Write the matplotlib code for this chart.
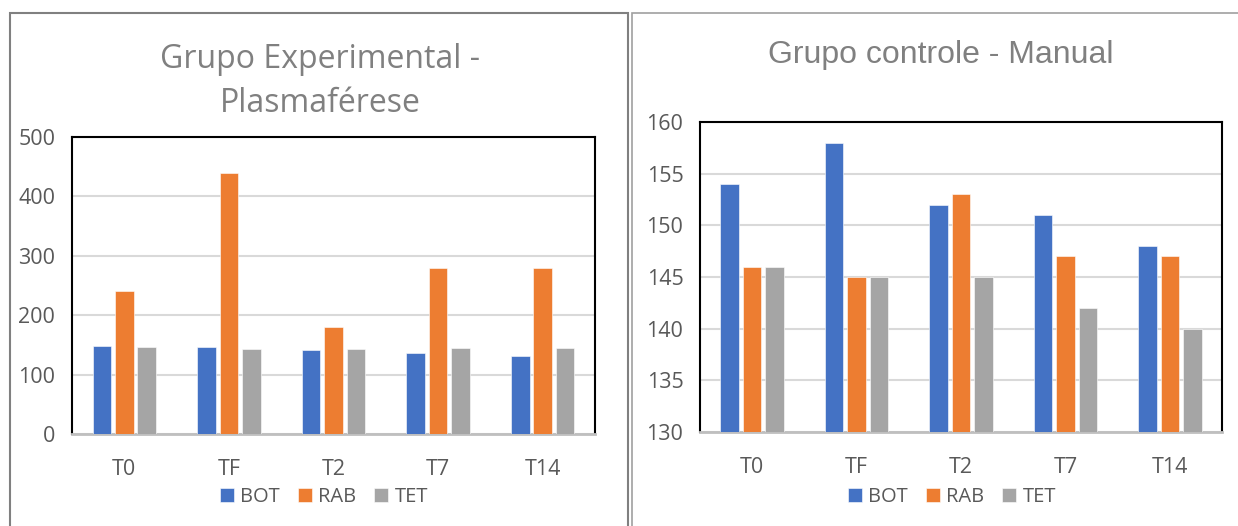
import matplotlib.pyplot as plt
import numpy as np
from matplotlib.patches import Rectangle

# data
categories = ["T0", "TF", "T2", "T7", "T14"]
series_names = ["BOT", "RAB", "TET"]

exp_bot = [148, 146, 142, 136, 132]
exp_rab = [240, 440, 180, 280, 280]
exp_tet = [147, 143, 143, 144, 144]

ctl_bot = [154, 158, 152, 151, 148]
ctl_rab = [146, 145, 153, 147, 147]
ctl_tet = [146, 145, 145, 142, 140]

colors = ["#4472C4", "#ED7D31", "#A5A5A5"]
TEXT = "#595959"
TICK_FONT = "Open Sans"


def draw_panel(ax, series, ylim, step):
    x = np.arange(len(categories))
    offsets = [-0.215, 0.0, 0.215]
    for vals, off, c, name in zip(series, offsets, colors, series_names):
        ax.bar(x + off, vals, width=0.178, color=c, label=name, zorder=3,
               edgecolor="white", linewidth=0.4)
    ax.set_xlim(-0.5, len(categories) - 0.5)
    ax.set_ylim(*ylim)
    ax.set_yticks(np.arange(ylim[0], ylim[1] + step, step))
    ax.set_xticks(x)
    ax.set_xticklabels(categories)
    ax.grid(axis="y", color="#D9D9D9", linewidth=1.5, zorder=0)
    ax.tick_params(length=0, labelsize=15.5, labelcolor=TEXT)
    ax.tick_params(axis="y", pad=12)
    ax.tick_params(axis="x", pad=18)
    for lab in ax.get_xticklabels() + ax.get_yticklabels():
        lab.set_fontfamily(TICK_FONT)
    for s in ["top", "left", "right"]:
        ax.spines[s].set_color("black")
        ax.spines[s].set_linewidth(1.5)
    ax.spines["bottom"].set_color("#BFBFBF")
    ax.spines["bottom"].set_linewidth(2)


fig = plt.figure(figsize=(12.38, 5.26), dpi=100)

# panel frames
fig.add_artist(Rectangle((10 / 1238, -0.1), 618 / 1238, 1.1 - 13 / 526,
                         transform=fig.transFigure, fill=False,
                         edgecolor="#808080", linewidth=1.5))
fig.add_artist(Rectangle((632 / 1238, -0.1), 0.6, 1.1 - 13 / 526,
                         transform=fig.transFigure, fill=False,
                         edgecolor="#A0A0A0", linewidth=1.2))

ax1 = fig.add_axes([72 / 1238, 1 - 434 / 526, 523 / 1238, 297 / 526])
draw_panel(ax1, [exp_bot, exp_rab, exp_tet], (0, 500), 100)

ax2 = fig.add_axes([700 / 1238, 1 - 432 / 526, 522 / 1238, 310 / 526])
draw_panel(ax2, [ctl_bot, ctl_rab, ctl_tet], (130, 160), 5)

fig.text(320 / 1238, 1 - 60 / 526, "Grupo Experimental -", ha="center",
         va="center", fontsize=23, color="#808080", family=TICK_FONT)
fig.text(320 / 1238, 1 - 103 / 526, "Plasmaférese", ha="center",
         va="center", fontsize=23, color="#808080", family=TICK_FONT)
fig.text(941 / 1238, 1 - 55 / 526, "Grupo controle - Manual", ha="center",
         va="center", fontsize=23, color="#808080", family="Liberation Sans")

for ax, cx in [(ax1, 324), (ax2, 952)]:
    leg = ax.legend(loc="center", bbox_to_anchor=(cx / 1238, 1 - 497 / 526),
                    bbox_transform=fig.transFigure, ncol=3, frameon=False,
                    handlelength=0.7, handleheight=0.7, handletextpad=0.3,
                    columnspacing=0.9, prop={"family": TICK_FONT, "size": 14.5})
    for t in leg.get_texts():
        t.set_color(TEXT)

fig.savefig("out.png", dpi=100)
